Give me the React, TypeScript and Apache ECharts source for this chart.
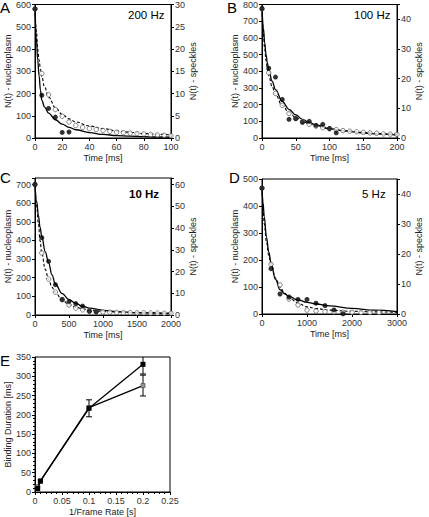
import React, { useEffect, useRef } from "react";
import * as echarts from "echarts";

// ---------- Panel A (200 Hz) ----------
const A_NUC_T = [0, 5, 10, 15, 20, 25];
const A_NUC = [580, 192, 133, 94, 25, 27];
const A_SPK_T = [0, 5, 10, 15, 20, 25, 30, 35, 40, 45, 50, 55, 60, 65, 70, 75, 80, 85, 90, 95, 100];
const A_SPK = [29, 14.5, 9.7, 6.4, 4.9, 3.6, 2.8, 2.4, 2.1, 1.9, 1.7, 1.5, 1.3, 1.2, 1.1, 1.0, 0.9, 0.8, 0.7, 0.6, 0.5];
const A_FIT_T = [0, 1, 2, 3, 4, 5, 7, 10, 15, 20, 25, 30, 40, 50, 60, 70, 80, 90, 100];
const A_NUC_FIT = [580, 450, 350, 280, 215, 170, 140, 112, 82, 62, 48, 37, 24, 16, 11, 8, 6, 4.5, 3.5];
const A_SPK_FIT = [29, 24, 20, 17.5, 15.5, 13.8, 11.5, 9.2, 6.8, 5.3, 4.3, 3.6, 2.7, 2.1, 1.6, 1.3, 1.0, 0.85, 0.7];

// ---------- Panel B (100 Hz) ----------
const B_NUC_T = [0, 10, 20, 30, 40, 50, 60, 70, 80, 90, 100, 110];
const B_NUC = [776, 418, 365, 231, 112, 116, 94, 100, 76, 82, 57, 31];
const B_SPK_T = [0, 10, 20, 30, 40, 50, 60, 70, 80, 90, 100, 110, 120, 130, 140, 150, 160, 170, 180, 190, 200];
const B_SPK = [43.5, 22, 15, 11, 8.3, 6.6, 5.5, 4.6, 4, 3.5, 3.1, 2.8, 2.5, 2.3, 2.1, 1.9, 1.7, 1.6, 1.4, 1.3, 1.2];
const B_FIT_T = [0, 2, 4, 6, 8, 10, 15, 20, 30, 40, 50, 60, 70, 80, 100, 120, 150, 175, 200];
const B_NUC_FIT = [780, 660, 570, 500, 450, 410, 340, 290, 220, 172, 138, 112, 93, 78, 56, 43, 30, 23, 18];
const B_SPK_FIT = [43.5, 35.5, 30, 26, 23, 21, 17.3, 14.6, 11, 8.6, 6.9, 5.7, 4.8, 4.1, 3.1, 2.5, 1.9, 1.5, 1.3];

// ---------- Panel C (10 Hz) ----------
const C_NUC_T = [0, 100, 200, 300, 400, 500, 600, 700, 800, 900];
const C_NUC = [700, 415, 288, 163, 83, 73, 61, 48, 20, 17];
const C_SPK_T = [0, 100, 200, 300, 400, 500, 600, 700, 800, 900, 1000, 1100, 1200, 1300, 1400, 1500, 1600, 1700, 1800, 1900, 2000];
const C_SPK = [60, 28.5, 16.5, 10.5, 7, 4.6, 3.2, 2.4, 1.9, 1.6, 1.4, 1.3, 1.2, 1.1, 1.1, 1.0, 1.0, 0.9, 0.9, 0.8, 0.8];
const C_FIT_T = [0, 25, 50, 75, 100, 150, 200, 250, 300, 400, 500, 600, 700, 800, 1000, 1200, 1500, 2000];
const C_NUC_FIT = [700, 610, 535, 470, 420, 340, 280, 215, 165, 115, 83, 62, 47, 37, 25, 18, 12, 8];
const C_SPK_FIT = [60, 50, 42, 34, 28.5, 21, 16.3, 12.8, 10.3, 6.9, 4.8, 3.6, 2.8, 2.3, 1.7, 1.4, 1.1, 0.8];

// ---------- Panel D (5 Hz) ----------
const D_NUC_T = [0, 200, 400, 600, 800, 1000, 1200, 1400, 1600, 1800];
const D_NUC = [466, 168, 74, 63, 54, 54, 40, 31, 15, 1];
const D_SPK_T = [0, 200, 400, 600, 800, 1000, 1200, 1400, 1600, 1800, 2000, 2200, 2400, 2600];
const D_SPK = [42, 16.6, 9.7, 5, 3, 1.3, 1.0, 0.8, 0.7, 0.6, 0.6, 0.5, 0.5, 0.5];
const D_FIT_T = [0, 25, 50, 100, 150, 200, 300, 400, 500, 600, 800, 1000, 1200, 1500, 2000, 2500, 3000];
const D_NUC_FIT = [466, 410, 360, 285, 230, 190, 128, 90, 75, 65, 52, 43, 37, 30, 21, 14, 9];
const D_SPK_FIT = [42, 35, 30, 24, 19.5, 16.5, 12, 9, 7, 5.5, 3.6, 2.4, 1.8, 1.3, 0.9, 0.7, 0.6];

// ---------- Panel E ----------
const E_X = [0.005, 0.01, 0.1, 0.2];
const E_S1 = [9, 28, 217, 331];
const E_S2 = [14, 29, 219, 276];
const E_ERR1 = [0, 0, 22, 25];
const E_ERR2 = [0, 0, 0, 27];

const FONT = "'Liberation Sans', Arial, sans-serif";

const zip = (xs: number[], ys: number[]) => xs.map((x, i) => [x, ys[i]]);

const everyFmt = (step: number) => (v: number) =>
  Math.abs(v / step - Math.round(v / step)) < 1e-6 ? String(+v.toFixed(4)) : "";

function xAxis(gridIndex: number, max: number, interval: number, name: string, minor = false) {
  return {
    type: "value",
    gridIndex,
    min: 0,
    max,
    interval,
    name,
    nameLocation: "middle",
    nameGap: 15,
    nameTextStyle: { fontSize: 9, color: "#222", fontFamily: FONT },
    axisLine: { show: true, onZero: false, lineStyle: { color: "#000", width: 1 } },
    axisTick: { show: true, inside: false, length: 3, lineStyle: { color: "#000" } },
    minorTick: { show: minor, splitNumber: 5, length: 2, lineStyle: { color: "#000" } },
    axisLabel: { fontSize: 9, color: "#333", margin: 4, fontFamily: FONT, formatter: everyFmt(interval) },
    splitLine: { show: false },
  };
}

function yAxis(
  gridIndex: number,
  max: number,
  interval: number,
  name: string,
  position: "left" | "right",
  minor = false
) {
  return {
    type: "value",
    gridIndex,
    position,
    min: 0,
    max,
    interval,
    name,
    nameLocation: "middle",
    nameGap: position === "left" ? 22 : 13,
    nameRotate: 90,
    nameTextStyle: { fontSize: 9, color: "#222", fontFamily: FONT },
    axisLine: { show: true, onZero: false, lineStyle: { color: "#000", width: 1 } },
    axisTick: { show: true, inside: false, length: 3, lineStyle: { color: "#000" } },
    minorTick: { show: minor, splitNumber: 5, length: 2, lineStyle: { color: "#000" } },
    axisLabel: {
      fontSize: 9,
      color: "#333",
      margin: 4,
      fontFamily: FONT,
      formatter: everyFmt(interval),
    },
    splitLine: { show: false },
  };
}

function decaySeries(
  xi: number,
  yl: number,
  yr: number,
  nucT: number[],
  nuc: number[],
  spkT: number[],
  spk: number[],
  fitT: number[],
  nucFit: number[],
  spkFit: number[]
) {
  return [
    {
      type: "line",
      xAxisIndex: xi,
      yAxisIndex: yl,
      data: zip(fitT, nucFit),
      showSymbol: false,
      smooth: 0.4,
      smoothMonotone: "x",
      lineStyle: { color: "#000", width: 1.3 },
      z: 2,
    },
    {
      type: "line",
      xAxisIndex: xi,
      yAxisIndex: yr,
      data: zip(fitT, spkFit),
      showSymbol: false,
      smooth: 0.4,
      smoothMonotone: "x",
      lineStyle: { color: "#000", width: 1.1, type: [3, 2] },
      z: 2,
    },
    {
      type: "scatter",
      xAxisIndex: xi,
      yAxisIndex: yr,
      data: zip(spkT, spk),
      symbol: "circle",
      symbolSize: 4.5,
      itemStyle: { color: "#fff", borderColor: "#444", borderWidth: 0.8 },
      z: 3,
    },
    {
      type: "scatter",
      xAxisIndex: xi,
      yAxisIndex: yl,
      data: zip(nucT, nuc),
      symbol: "circle",
      symbolSize: 5,
      itemStyle: { color: "#000" },
      z: 4,
    },
  ];
}

function errRender(params: any, api: any) {
  const x = api.value(0);
  const y = api.value(1);
  const e = api.value(2);
  const top = api.coord([x, y + e]);
  const bot = api.coord([x, y - e]);
  const st = { stroke: "#000", lineWidth: 1 };
  return {
    type: "group",
    children: [
      { type: "line", shape: { x1: top[0], y1: top[1], x2: bot[0], y2: bot[1] }, style: st },
      { type: "line", shape: { x1: top[0] - 3, y1: top[1], x2: top[0] + 3, y2: top[1] }, style: st },
      { type: "line", shape: { x1: bot[0] - 3, y1: bot[1], x2: bot[0] + 3, y2: bot[1] }, style: st },
    ],
  };
}

const gridBase = {
  show: true,
  backgroundColor: "transparent",
  borderColor: "#000",
  borderWidth: 1,
  containLabel: false,
};

function textG(left: number, top: number, text: string, size: number, weight = "normal") {
  return {
    type: "text",
    left,
    top,
    style: { text, fontSize: size, fontWeight: weight, fill: "#000", fontFamily: FONT },
  };
}

export default function App() {
  const ref = useRef<HTMLDivElement>(null);
  useEffect(() => {
    if (!ref.current) return;
    const chart = echarts.init(ref.current, undefined, { renderer: "svg" });
    const option = {
      animation: false,
      textStyle: { fontFamily: FONT },
      grid: [
        { ...gridBase, left: 35, top: 3, width: 136, height: 135 },
        { ...gridBase, left: 262, top: 2, width: 135, height: 136 },
        { ...gridBase, left: 35, top: 178, width: 136, height: 137 },
        { ...gridBase, left: 262, top: 179, width: 135, height: 135 },
        { ...gridBase, left: 35, top: 357, width: 135, height: 136 },
      ],
      xAxis: [
        xAxis(0, 100, 20, "Time [ms]"),
        xAxis(1, 200, 50, "Time [ms]"),
        xAxis(2, 2000, 500, "Time [ms]"),
        xAxis(3, 3000, 1000, "Time [ms]"),
        xAxis(4, 0.25, 0.05, "1/Frame Rate [s]", true),
      ],
      yAxis: [
        yAxis(0, 600, 100, "N(t) - nucleoplasm", "left"),
        yAxis(0, 30, 5, "N(t) - speckles", "right"),
        yAxis(1, 800, 100, "N(t) - nucleoplasm", "left"),
        yAxis(1, 45, 10, "N(t) - speckles", "right"),
        yAxis(2, 735, 100, "N(t) - nucleoplasm", "left"),
        yAxis(2, 63, 10, "N(t) - speckles", "right"),
        yAxis(3, 500, 100, "N(t) - nucleoplasm", "left"),
        yAxis(3, 45, 10, "N(t) - speckles", "right"),
        yAxis(4, 350, 50, "Binding Duration [ms]", "left", true),
      ],
      series: [
        ...decaySeries(0, 0, 1, A_NUC_T, A_NUC, A_SPK_T, A_SPK, A_FIT_T, A_NUC_FIT, A_SPK_FIT),
        ...decaySeries(1, 2, 3, B_NUC_T, B_NUC, B_SPK_T, B_SPK, B_FIT_T, B_NUC_FIT, B_SPK_FIT),
        ...decaySeries(2, 4, 5, C_NUC_T, C_NUC, C_SPK_T, C_SPK, C_FIT_T, C_NUC_FIT, C_SPK_FIT),
        ...decaySeries(3, 6, 7, D_NUC_T, D_NUC, D_SPK_T, D_SPK, D_FIT_T, D_NUC_FIT, D_SPK_FIT),
        {
          type: "custom",
          xAxisIndex: 4,
          yAxisIndex: 8,
          renderItem: errRender,
          clip: true,
          data: [
            ...E_X.map((x, i) => [x, E_S1[i], E_ERR1[i]]).filter((d) => d[2] > 0),
            ...E_X.map((x, i) => [x, E_S2[i], E_ERR2[i]]).filter((d) => d[2] > 0),
          ],
          z: 1,
        },
        {
          type: "line",
          xAxisIndex: 4,
          yAxisIndex: 8,
          data: zip(E_X, E_S2),
          symbol: "rect",
          symbolSize: 4,
          showAllSymbol: true,
          lineStyle: { color: "#000", width: 1.3 },
          itemStyle: { color: "#999", borderColor: "#555", borderWidth: 0.8 },
          z: 2,
        },
        {
          type: "line",
          xAxisIndex: 4,
          yAxisIndex: 8,
          data: zip(E_X, E_S1),
          symbol: "rect",
          symbolSize: 5,
          showAllSymbol: true,
          lineStyle: { color: "#000", width: 1.3 },
          itemStyle: { color: "#000" },
          z: 3,
        },
      ],
      graphic: [
        textG(0, 0, "A", 15),
        textG(227, 0, "B", 15),
        textG(0, 170, "C", 15),
        textG(229, 170, "D", 15),
        textG(0, 353, "E", 15),
        textG(128, 9, "200 Hz", 11.5),
        textG(354, 9, "100 Hz", 11.5),
        textG(129, 188, "10 Hz", 11.5, "bold"),
        textG(362, 188, "5 Hz", 11.5),
      ],
    };
    chart.setOption(option as any);
    return () => chart.dispose();
  }, []);
  return (
    <div
      ref={ref}
      style={{ position: "fixed", left: 0, top: 0, width: 429, height: 517, background: "#fff" }}
    />
  );
}
